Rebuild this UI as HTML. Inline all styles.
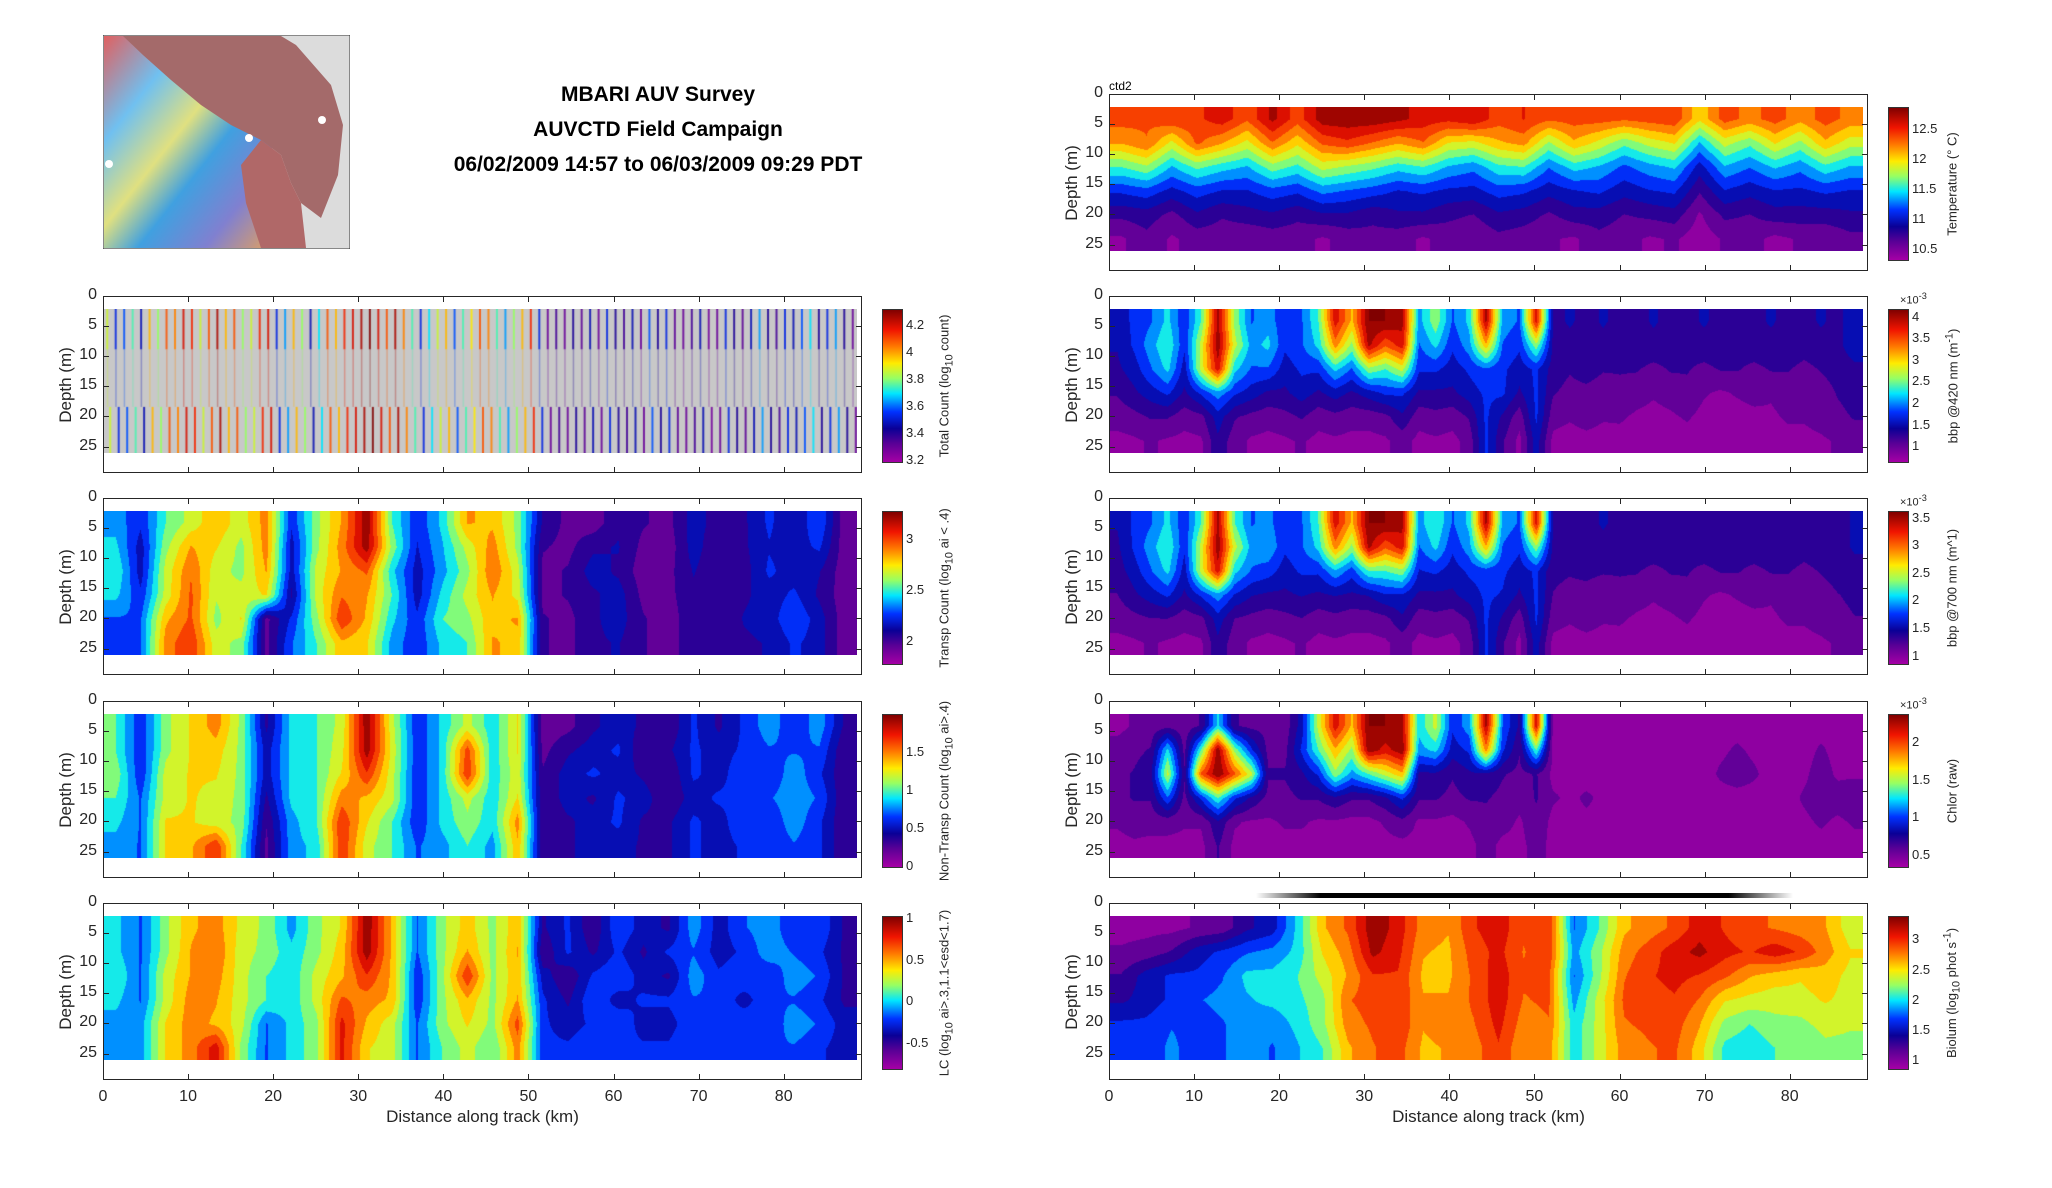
<!DOCTYPE html>
<html><head><meta charset="utf-8">
<style>
body{margin:0;background:#fff;width:2052px;height:1188px;overflow:hidden;position:relative;font-family:"Liberation Sans",sans-serif;}
.abs{position:absolute;}
.ax{position:absolute;border:1.5px solid #262626;box-sizing:border-box;}
.tl{position:absolute;font-size:16px;color:#262626;}
.cbl{position:absolute;font-size:13px;color:#262626;}
.rot{position:absolute;transform:translate(-50%,-50%) rotate(-90deg);white-space:nowrap;color:#262626;}
.title{position:absolute;left:658px;transform:translateX(-50%);font-weight:bold;font-size:21px;white-space:nowrap;color:#000;}
</style></head>
<body>
<div id="root"></div>
<svg class="abs" style="left:103px;top:35px" width="247" height="214">
<defs><linearGradient id="lg" x1="0" y1="0" x2="1" y2="1">
<stop offset="0" stop-color="#e06060"/><stop offset="0.25" stop-color="#70c0f0"/><stop offset="0.45" stop-color="#e0e080"/><stop offset="0.6" stop-color="#40a0e0"/><stop offset="0.8" stop-color="#8080d0"/><stop offset="1" stop-color="#e0a060"/></linearGradient></defs>
<rect width="247" height="214" fill="#dcdcdc" stroke="#333"/>
<rect x="1" y="1" width="168" height="212" fill="url(#lg)"/>
<path d="M20,1 L178,1 L193,10 L228,50 L240,90 L235,140 L218,183 L198,168 L188,148 L178,120 L158,105 L128,90 L98,70 L68,45 L40,20 Z" fill="#a46a6a"/>
<path d="M158,105 L178,120 L188,148 L198,168 L203,213 L158,213 L143,168 L138,130 Z" fill="#b06868"/>
<circle cx="219" cy="85" r="4" fill="#fff"/><circle cx="146" cy="103" r="4" fill="#fff"/><circle cx="6" cy="129" r="4" fill="#fff"/>
</svg>
<div class="title" style="top:83px">MBARI AUV Survey</div>
<div class="title" style="top:118px">AUVCTD Field Campaign</div>
<div class="title" style="top:153px">06/02/2009 14:57 to 06/03/2009 09:29 PDT</div>
<div class="abs" style="left:1109px;top:79px;font-size:12px">ctd2</div>
<div class="abs" style="left:1256px;top:893px;width:537px;height:5px;background:linear-gradient(90deg,#fff,#000 12%,#000 88%,#fff)"></div>
<script>
// ---------- data ----------
const xTicks=[0,10,20,30,40,50,60,70,80];
const yTicks=[0,5,10,15,20,25];
const totalStreaks=[0.6,0.3,0.35,0.5,0.25,0.7,0.55,0.8,0.75,0.9,0.85,0.6,0.8,0.95,0.7,0.8,0.55,0.6,0.85,0.9,0.3,0.4,0.7,0.55,0.25,0.45,0.8,0.7,0.85,0.9,0.95,1,0.9,0.8,0.95,0.75,0.5,0.3,0.45,0.6,0.7,0.35,0.5,0.65,0.8,0.75,0.5,0.4,0.55,0.7,0.85,0.3,0.1,0.15,0.1,0.2,0.12,0.25,0.1,0.3,0.2,0.15,0.25,0.1,0.35,0.2,0.3,0.12,0.1,0.15,0.25,0.08,0.1,0.3,0.2,0.12,0.25,0.4,0.2,0.15,0.3,0.25,0.35,0.45,0.2,0.3,0.4,0.2,0.1];
const transpRows=[
[0.4,0.3,0.5,0.6,0.7,0.6,0.75,0.3,0.55,0.72,0.98,0.5,0.3,0.45,0.72,0.7,0.55,0.2,0.12,0.1,0.2,0.15,0.12,0.25,0.18,0.2,0.3,0.22,0.35,0.1],
[0.45,0.25,0.55,0.72,0.65,0.55,0.75,0.25,0.55,0.75,0.97,0.55,0.28,0.42,0.6,0.75,0.55,0.15,0.12,0.2,0.22,0.12,0.1,0.25,0.15,0.2,0.28,0.25,0.3,0.1],
[0.5,0.25,0.6,0.78,0.6,0.55,0.72,0.25,0.6,0.72,0.8,0.45,0.25,0.4,0.55,0.78,0.6,0.12,0.15,0.25,0.2,0.1,0.12,0.22,0.15,0.18,0.3,0.25,0.22,0.1],
[0.45,0.3,0.6,0.8,0.58,0.6,0.65,0.2,0.6,0.78,0.72,0.5,0.25,0.45,0.6,0.72,0.62,0.12,0.15,0.2,0.25,0.12,0.12,0.2,0.18,0.2,0.25,0.3,0.2,0.1],
[0.35,0.35,0.7,0.8,0.55,0.65,0.12,0.3,0.55,0.85,0.7,0.45,0.3,0.5,0.55,0.7,0.72,0.15,0.12,0.2,0.25,0.15,0.1,0.2,0.15,0.22,0.25,0.35,0.25,0.1],
[0.3,0.35,0.75,0.85,0.6,0.55,0.12,0.35,0.5,0.7,0.65,0.4,0.3,0.45,0.5,0.72,0.7,0.15,0.12,0.2,0.22,0.15,0.1,0.2,0.15,0.2,0.22,0.3,0.25,0.1]];
const nonTranspRows=[
[0.5,0.3,0.55,0.65,0.75,0.55,0.2,0.45,0.5,0.6,0.98,0.6,0.3,0.45,0.6,0.45,0.65,0.1,0.12,0.2,0.25,0.2,0.15,0.3,0.2,0.3,0.4,0.3,0.4,0.2],
[0.5,0.3,0.55,0.65,0.68,0.55,0.25,0.45,0.5,0.62,0.97,0.62,0.3,0.45,0.82,0.45,0.65,0.12,0.2,0.25,0.3,0.15,0.2,0.3,0.25,0.3,0.35,0.35,0.35,0.15],
[0.55,0.3,0.6,0.65,0.65,0.55,0.25,0.45,0.5,0.65,0.85,0.6,0.3,0.45,0.85,0.45,0.62,0.15,0.25,0.3,0.25,0.2,0.15,0.3,0.25,0.35,0.3,0.4,0.3,0.15],
[0.5,0.35,0.6,0.65,0.62,0.55,0.2,0.45,0.5,0.75,0.7,0.6,0.3,0.45,0.6,0.45,0.65,0.15,0.25,0.2,0.3,0.25,0.15,0.25,0.3,0.3,0.35,0.4,0.35,0.15],
[0.45,0.35,0.65,0.65,0.6,0.55,0.15,0.4,0.5,0.85,0.65,0.5,0.3,0.45,0.55,0.45,0.75,0.15,0.2,0.25,0.3,0.2,0.2,0.3,0.25,0.35,0.3,0.4,0.3,0.15],
[0.4,0.35,0.65,0.7,0.85,0.5,0.12,0.4,0.45,0.85,0.6,0.5,0.35,0.4,0.5,0.4,0.7,0.15,0.2,0.25,0.25,0.2,0.2,0.3,0.25,0.3,0.3,0.35,0.3,0.15]];
const lcRows=[
[0.45,0.35,0.55,0.7,0.75,0.62,0.55,0.4,0.55,0.65,0.98,0.7,0.35,0.55,0.68,0.55,0.7,0.2,0.3,0.15,0.35,0.25,0.2,0.4,0.25,0.35,0.4,0.3,0.35,0.2],
[0.45,0.35,0.55,0.72,0.78,0.6,0.55,0.45,0.55,0.68,0.97,0.7,0.35,0.55,0.72,0.55,0.72,0.15,0.3,0.2,0.3,0.2,0.3,0.35,0.25,0.3,0.4,0.35,0.3,0.2],
[0.5,0.35,0.6,0.72,0.75,0.6,0.5,0.45,0.6,0.7,0.85,0.7,0.3,0.55,0.85,0.55,0.7,0.25,0.15,0.3,0.35,0.25,0.2,0.4,0.3,0.35,0.3,0.4,0.35,0.2],
[0.45,0.35,0.6,0.75,0.72,0.6,0.5,0.45,0.6,0.8,0.75,0.7,0.3,0.55,0.7,0.55,0.72,0.3,0.2,0.35,0.25,0.3,0.3,0.35,0.35,0.25,0.35,0.35,0.3,0.2],
[0.4,0.4,0.65,0.75,0.7,0.6,0.35,0.45,0.55,0.88,0.7,0.6,0.35,0.55,0.65,0.55,0.82,0.3,0.25,0.3,0.35,0.25,0.25,0.35,0.3,0.35,0.3,0.4,0.35,0.25],
[0.4,0.4,0.65,0.75,0.9,0.55,0.35,0.45,0.55,0.88,0.65,0.6,0.35,0.5,0.6,0.5,0.75,0.3,0.3,0.35,0.3,0.3,0.3,0.35,0.3,0.35,0.35,0.35,0.3,0.25]];
const tempRows=[
[0.82,0.8,0.85,0.84,0.9,0.8,0.95,0.82,0.97,0.98,0.98,0.95,0.9,0.88,0.92,0.82,0.86,0.8,0.82,0.82,0.8,0.82,0.84,0.66,0.82,0.76,0.82,0.74,0.82,0.76],
[0.72,0.78,0.62,0.8,0.72,0.62,0.78,0.66,0.8,0.84,0.78,0.72,0.78,0.64,0.62,0.7,0.74,0.56,0.7,0.62,0.52,0.6,0.65,0.42,0.6,0.52,0.65,0.55,0.7,0.6],
[0.5,0.56,0.42,0.52,0.46,0.42,0.54,0.48,0.6,0.56,0.52,0.46,0.5,0.42,0.38,0.48,0.5,0.36,0.46,0.42,0.34,0.4,0.44,0.25,0.42,0.36,0.44,0.38,0.48,0.42],
[0.3,0.33,0.26,0.32,0.28,0.28,0.33,0.3,0.38,0.35,0.32,0.28,0.3,0.27,0.26,0.32,0.3,0.24,0.28,0.3,0.24,0.28,0.3,0.15,0.28,0.24,0.28,0.27,0.3,0.28],
[0.16,0.18,0.12,0.2,0.15,0.18,0.2,0.16,0.2,0.2,0.16,0.2,0.2,0.16,0.14,0.2,0.18,0.13,0.18,0.18,0.14,0.16,0.18,0.06,0.16,0.14,0.18,0.18,0.18,0.2],
[0.06,0.12,0.06,0.1,0.1,0.08,0.1,0.1,0.06,0.1,0.12,0.1,0.06,0.1,0.08,0.12,0.1,0.08,0.06,0.12,0.1,0.06,0.08,0.03,0.08,0.1,0.05,0.08,0.08,0.12]];
const bbp420Rows=[
[0.25,0.3,0.35,0.45,0.3,0.5,0.95,0.55,0.35,0.4,0.3,0.35,0.5,0.9,0.7,1,1,0.95,0.4,0.55,0.35,0.45,0.95,0.4,0.35,0.9,0.2,0.22,0.2,0.22,0.2,0.2,0.22,0.2,0.2,0.22,0.2,0.2,0.2,0.22,0.2,0.2,0.22,0.2,0.25],
[0.22,0.3,0.4,0.5,0.3,0.6,0.98,0.6,0.4,0.45,0.3,0.35,0.45,0.75,0.55,0.95,0.8,0.9,0.35,0.45,0.3,0.4,0.7,0.35,0.3,0.55,0.2,0.2,0.2,0.2,0.18,0.2,0.2,0.2,0.18,0.2,0.2,0.18,0.2,0.2,0.2,0.18,0.2,0.2,0.25],
[0.2,0.25,0.35,0.45,0.25,0.6,0.9,0.45,0.35,0.35,0.25,0.3,0.3,0.45,0.35,0.55,0.5,0.6,0.3,0.3,0.25,0.3,0.35,0.3,0.25,0.3,0.18,0.15,0.18,0.15,0.15,0.15,0.12,0.15,0.15,0.12,0.15,0.15,0.12,0.15,0.15,0.12,0.15,0.18,0.2],
[0.15,0.2,0.25,0.3,0.2,0.3,0.4,0.3,0.25,0.2,0.2,0.25,0.2,0.25,0.2,0.25,0.3,0.3,0.2,0.2,0.2,0.25,0.3,0.3,0.2,0.3,0.15,0.12,0.12,0.1,0.12,0.1,0.08,0.1,0.12,0.08,0.06,0.08,0.1,0.08,0.1,0.12,0.1,0.15,0.18],
[0.1,0.12,0.15,0.15,0.1,0.12,0.25,0.15,0.12,0.1,0.12,0.15,0.1,0.12,0.1,0.1,0.12,0.2,0.1,0.12,0.1,0.15,0.3,0.2,0.1,0.3,0.1,0.08,0.1,0.08,0.08,0.06,0.05,0.06,0.08,0.05,0.03,0.04,0.05,0.06,0.08,0.08,0.1,0.12,0.15],
[0.05,0.06,0.08,0.06,0.05,0.06,0.2,0.1,0.06,0.05,0.06,0.08,0.05,0.06,0.05,0.05,0.06,0.1,0.05,0.06,0.05,0.1,0.3,0.15,0.05,0.25,0.05,0.04,0.05,0.04,0.05,0.03,0.02,0.03,0.04,0.02,0.02,0.02,0.03,0.04,0.05,0.05,0.06,0.08,0.1]];
const bbp700Rows=[
[0.22,0.3,0.35,0.45,0.3,0.5,0.95,0.5,0.35,0.38,0.3,0.35,0.5,0.9,0.7,1,1,0.95,0.4,0.5,0.35,0.45,0.95,0.4,0.35,0.9,0.2,0.2,0.2,0.22,0.2,0.2,0.2,0.2,0.2,0.2,0.2,0.2,0.2,0.2,0.2,0.2,0.2,0.2,0.22],
[0.2,0.3,0.4,0.5,0.3,0.6,0.98,0.6,0.4,0.42,0.3,0.35,0.45,0.75,0.55,0.95,0.8,0.9,0.35,0.45,0.3,0.4,0.7,0.35,0.3,0.55,0.2,0.2,0.2,0.2,0.18,0.2,0.2,0.2,0.18,0.2,0.2,0.18,0.2,0.2,0.2,0.18,0.2,0.2,0.22],
[0.18,0.25,0.35,0.45,0.25,0.6,0.9,0.45,0.35,0.32,0.25,0.3,0.3,0.42,0.32,0.5,0.5,0.55,0.28,0.3,0.25,0.3,0.32,0.3,0.25,0.3,0.16,0.15,0.16,0.15,0.15,0.15,0.12,0.15,0.15,0.12,0.15,0.15,0.12,0.15,0.15,0.12,0.15,0.18,0.2],
[0.14,0.2,0.25,0.3,0.2,0.3,0.4,0.28,0.22,0.2,0.2,0.22,0.2,0.22,0.2,0.22,0.28,0.28,0.2,0.2,0.2,0.25,0.3,0.28,0.2,0.3,0.14,0.12,0.12,0.1,0.12,0.1,0.08,0.1,0.12,0.08,0.06,0.08,0.1,0.08,0.1,0.12,0.1,0.14,0.16],
[0.1,0.12,0.14,0.14,0.1,0.12,0.25,0.14,0.12,0.1,0.12,0.14,0.1,0.12,0.1,0.1,0.12,0.2,0.1,0.12,0.1,0.15,0.3,0.2,0.1,0.3,0.1,0.08,0.1,0.08,0.08,0.06,0.05,0.06,0.08,0.05,0.03,0.04,0.05,0.06,0.08,0.08,0.1,0.12,0.14],
[0.05,0.06,0.08,0.06,0.05,0.06,0.2,0.1,0.06,0.05,0.06,0.08,0.05,0.06,0.05,0.05,0.06,0.1,0.05,0.06,0.05,0.1,0.3,0.15,0.05,0.25,0.05,0.04,0.05,0.04,0.05,0.03,0.02,0.03,0.04,0.02,0.02,0.02,0.03,0.04,0.05,0.05,0.06,0.08,0.1]];
const chlorRows=[
[0.05,0.08,0.1,0.12,0.1,0.15,0.45,0.15,0.12,0.12,0.1,0.25,0.6,0.9,0.7,1,1,0.95,0.45,0.6,0.3,0.4,0.95,0.35,0.2,0.9,0.05,0.05,0.05,0.05,0.05,0.05,0.05,0.05,0.05,0.05,0.05,0.05,0.05,0.05,0.05,0.05,0.05,0.05,0.05],
[0.1,0.12,0.15,0.45,0.12,0.5,0.98,0.55,0.3,0.12,0.12,0.3,0.5,0.7,0.55,0.98,0.9,0.98,0.4,0.45,0.25,0.3,0.75,0.3,0.15,0.5,0.05,0.05,0.05,0.05,0.05,0.05,0.05,0.05,0.05,0.05,0.06,0.08,0.06,0.05,0.05,0.05,0.08,0.05,0.05],
[0.12,0.15,0.2,0.6,0.15,0.8,1,0.8,0.6,0.15,0.15,0.2,0.3,0.55,0.4,0.5,0.6,0.7,0.2,0.2,0.15,0.2,0.2,0.15,0.12,0.15,0.05,0.06,0.05,0.05,0.06,0.05,0.05,0.05,0.05,0.05,0.08,0.1,0.08,0.05,0.05,0.06,0.1,0.06,0.06],
[0.12,0.15,0.15,0.35,0.12,0.3,0.5,0.3,0.2,0.12,0.12,0.15,0.15,0.2,0.15,0.15,0.2,0.3,0.15,0.15,0.12,0.15,0.15,0.12,0.1,0.15,0.08,0.06,0.08,0.06,0.05,0.05,0.05,0.05,0.06,0.05,0.05,0.05,0.05,0.06,0.05,0.08,0.1,0.1,0.12],
[0.08,0.1,0.1,0.1,0.08,0.08,0.2,0.08,0.06,0.06,0.08,0.08,0.06,0.06,0.05,0.05,0.08,0.12,0.06,0.06,0.05,0.08,0.12,0.1,0.06,0.12,0.05,0.05,0.06,0.05,0.05,0.05,0.05,0.05,0.05,0.05,0.05,0.05,0.05,0.05,0.05,0.06,0.08,0.06,0.08],
[0.05,0.06,0.05,0.05,0.05,0.05,0.15,0.05,0.05,0.05,0.05,0.05,0.05,0.05,0.05,0.05,0.05,0.05,0.05,0.05,0.05,0.05,0.1,0.05,0.05,0.1,0.05,0.05,0.05,0.05,0.05,0.05,0.05,0.05,0.05,0.05,0.05,0.05,0.05,0.05,0.05,0.05,0.05,0.05,0.05]];
const biolumRows=[
[0.05,0.05,0.05,0.08,0.1,0.2,0.25,0.45,0.7,0.8,0.98,0.9,0.75,0.72,0.85,0.9,0.8,0.85,0.35,0.5,0.7,0.75,0.8,0.9,0.85,0.8,0.78,0.75,0.72,0.6],
[0.08,0.1,0.15,0.25,0.3,0.35,0.38,0.45,0.65,0.75,0.95,0.88,0.72,0.7,0.82,0.88,0.78,0.85,0.4,0.55,0.75,0.82,0.9,0.95,0.88,0.85,0.9,0.85,0.75,0.65],
[0.15,0.25,0.3,0.3,0.35,0.45,0.45,0.5,0.6,0.72,0.85,0.85,0.7,0.7,0.8,0.9,0.8,0.8,0.35,0.55,0.78,0.85,0.88,0.85,0.8,0.72,0.68,0.65,0.68,0.62],
[0.2,0.25,0.3,0.35,0.38,0.42,0.45,0.48,0.55,0.78,0.82,0.85,0.72,0.72,0.8,0.9,0.78,0.8,0.4,0.6,0.8,0.82,0.85,0.78,0.65,0.62,0.6,0.62,0.65,0.62],
[0.3,0.3,0.35,0.32,0.35,0.4,0.38,0.45,0.55,0.75,0.8,0.85,0.72,0.75,0.78,0.88,0.75,0.78,0.45,0.6,0.78,0.8,0.82,0.72,0.55,0.5,0.55,0.55,0.6,0.58],
[0.35,0.3,0.38,0.3,0.35,0.4,0.35,0.42,0.5,0.7,0.78,0.82,0.7,0.72,0.75,0.85,0.72,0.75,0.45,0.6,0.75,0.78,0.8,0.68,0.48,0.45,0.5,0.5,0.55,0.55]];
const cbTotalTicks=[3.2,3.4,3.6,3.8,4,4.2];
const cbTranspTicks=[2,2.5,3];
const cbNonTicks=[0,0.5,1,1.5];
const cbLcTicks=[-0.5,0,0.5,1];
const cbTempTicks=[10.5,11,11.5,12,12.5];
const cb420Ticks=[1,1.5,2,2.5,3,3.5,4];
const cb700Ticks=[1,1.5,2,2.5,3,3.5];
const cbChlTicks=[0.5,1,1.5,2];
const cbBioTicks=[1,1.5,2,2.5,3];

// ---------- rendering ----------
const stops=[[0,[165,0,165]],[0.12,[90,0,150]],[0.22,[10,0,150]],[0.33,[0,50,255]],[0.45,[0,230,255]],[0.55,[150,255,100]],[0.65,[255,235,0]],[0.76,[255,120,0]],[0.87,[240,20,0]],[1,[128,0,0]]];
function cmap(v){v=Math.max(0,Math.min(1,v));for(let i=1;i<stops.length;i++){if(v<=stops[i][0]){const a=stops[i-1],b=stops[i],t=(v-a[0])/(b[0]-a[0]);return a[1].map((c,j)=>Math.round(c+(b[1][j]-c)*t));}}return stops[stops.length-1][1];}
const grad='linear-gradient(0deg,'+stops.map(s=>'rgb('+s[1].join(',')+') '+(s[0]*100)+'%').join(',')+')';
const root=document.getElementById('root');
const AW=759,AH=177,KM=89.2,DM=29.4,LEVELS=14;
function xs(x0,km){return x0+km/KM*AW;}
function ys(y0,d){return y0+d/DM*AH;}
function el(tag,cls,css,txt){const e=document.createElement(tag);if(cls)e.className=cls;e.style.cssText=css;if(txt!==undefined)e.innerHTML=txt;root.appendChild(e);return e;}
function panel(name,x0,y0,rows,label,ticks,vmin,vmax,exp,showX,streaks){
  const ax=el('div','ax','left:'+x0+'px;top:'+y0+'px;width:'+AW+'px;height:'+AH+'px;');
  
  
  const cv=document.createElement('canvas');
  const dx0=xs(x0,0),dx1=xs(x0,88.6),dy0=ys(y0,2.1),dy1=ys(y0,26);
  cv.width=Math.round(dx1-dx0);cv.height=Math.round(dy1-dy0);
  cv.style.cssText='position:absolute;left:'+dx0+'px;top:'+dy0+'px;';
  
  
  root.appendChild(cv);
  const ctx=cv.getContext('2d');
  const W=cv.width,H=cv.height;
  if(streaks){
    ctx.fillStyle='#c8c8c8';ctx.fillRect(0,0,W,H);
    const n=streaks.length;
    for(let i=0;i<n;i++){
      const c=cmap(streaks[i]);const px=(i+0.5)/n*W;
      ctx.fillStyle='rgb('+c.join(',')+')';
      ctx.globalAlpha=0.85;ctx.fillRect(px-1,0,2,H*0.28);ctx.fillRect(px+2,H*0.68,2,H*0.32);
      ctx.globalAlpha=0.3;ctx.fillRect(px-0.5,H*0.28,1.5,H*0.4);
    }
    ctx.globalAlpha=1;
  } else {
    const nr=rows.length,nc=rows[0].length;
    const img=ctx.createImageData(W,H);
    for(let y=0;y<H;y++){
      const fy=Math.max(0,Math.min(nr-1,(y+0.5)/H*nr-0.5));const r0=Math.floor(fy),r1=Math.min(nr-1,r0+1),ty=fy-r0;
      for(let x=0;x<W;x++){
        const fx=Math.max(0,Math.min(nc-1,(x+0.5)/W*nc-0.5));const c0=Math.floor(fx),c1=Math.min(nc-1,c0+1),tx=fx-c0;
        const v=(rows[r0][c0]*(1-tx)+rows[r0][c1]*tx)*(1-ty)+(rows[r1][c0]*(1-tx)+rows[r1][c1]*tx)*ty;
        const q=(Math.floor(v*LEVELS)+0.5)/LEVELS;
        const col=cmap(q);const k=(y*W+x)*4;
        img.data[k]=col[0];img.data[k+1]=col[1];img.data[k+2]=col[2];img.data[k+3]=255;
      }}
    ctx.putImageData(img,0,0);
  }
  root.appendChild(ax);
  for(const t of xTicks){const px=xs(x0,t);
    const a=el('div','','position:absolute;left:'+px+'px;top:'+y0+'px;width:1px;height:6px;background:#262626;');
    
    el('div','','position:absolute;left:'+px+'px;top:'+(y0+AH-6)+'px;width:1px;height:6px;background:#262626;');
    if(showX){const l=el('div','tl','left:'+(px-20)+'px;width:40px;text-align:center;top:'+(y0+AH+8)+'px;',t);
      }}
  for(const t of yTicks){const py=ys(y0,t);
    el('div','','position:absolute;left:'+x0+'px;top:'+py+'px;width:6px;height:1px;background:#262626;');
    el('div','','position:absolute;left:'+(x0+AW-6)+'px;top:'+py+'px;width:6px;height:1px;background:#262626;');
    const l=el('div','tl','left:'+(x0-44)+'px;width:38px;text-align:right;top:'+(py-10)+'px;',t);
    }
  const yl=el('div','rot','left:'+(x0-37)+'px;top:'+(y0+AH/2)+'px;font-size:17px;','Depth (m)');
  
  if(showX){const xl=el('div','','position:absolute;left:'+x0+'px;width:'+AW+'px;text-align:center;top:'+(y0+AH+27)+'px;font-size:17px;color:#262626;','Distance along track (km)');
    }
  const cx=x0+AW+20,ct=y0+13,ch=154;
  const cb=el('div','','position:absolute;left:'+cx+'px;top:'+ct+'px;width:21px;height:'+ch+'px;border:1px solid #333;box-sizing:border-box;background:'+grad+';');
  
  for(const t of ticks){const py=ct+ch*(vmax-t)/(vmax-vmin);
    const l=el('div','cbl','left:'+(cx+24)+'px;top:'+(py-8)+'px;',t);
    }
  if(exp){const e=el('div','cbl','left:'+(cx+12)+'px;top:'+(ct-18)+'px;font-size:11px;','×10<sup>-3</sup>');
    }
  const cl=el('div','rot','left:'+(cx+64)+'px;top:'+(ct+ch/2)+'px;font-size:13px;',label);
  
}
const LX=103,RX=1109;
panel('total-count',LX,296,null,'Total Count (log<sub>10</sub> count)',cbTotalTicks,3.18,4.32,false,false,totalStreaks);
panel('transp-count',LX,498,transpRows,'Transp Count (log<sub>10</sub> ai &lt; .4)',cbTranspTicks,1.77,3.27,false,false);
panel('non-transp-count',LX,701,nonTranspRows,'Non-Transp Count (log<sub>10</sub> ai&gt;.4)',cbNonTicks,-0.03,2.0,false,false);
panel('lc',LX,903,lcRows,'LC (log<sub>10</sub> ai&gt;.3,1.1&lt;esd&lt;1.7)',cbLcTicks,-0.83,1.03,false,true);
panel('temperature',RX,94,tempRows,'Temperature (° C)',cbTempTicks,10.3,12.87,false,false);
panel('bbp420',RX,296,bbp420Rows,'bbp @420 nm (m<sup>-1</sup>)',cb420Ticks,0.61,4.18,true,false);
panel('bbp700',RX,498,bbp700Rows,'bbp @700 nm (m^1)',cb700Ticks,0.83,3.62,true,false);
panel('chlor',RX,701,chlorRows,'Chlor (raw)',cbChlTicks,0.33,2.37,true,false);
panel('biolum',RX,903,biolumRows,'Biolum (log<sub>10</sub> phot s<sup>-1</sup>)',cbBioTicks,0.83,3.39,false,true);
</script>
</body></html>
